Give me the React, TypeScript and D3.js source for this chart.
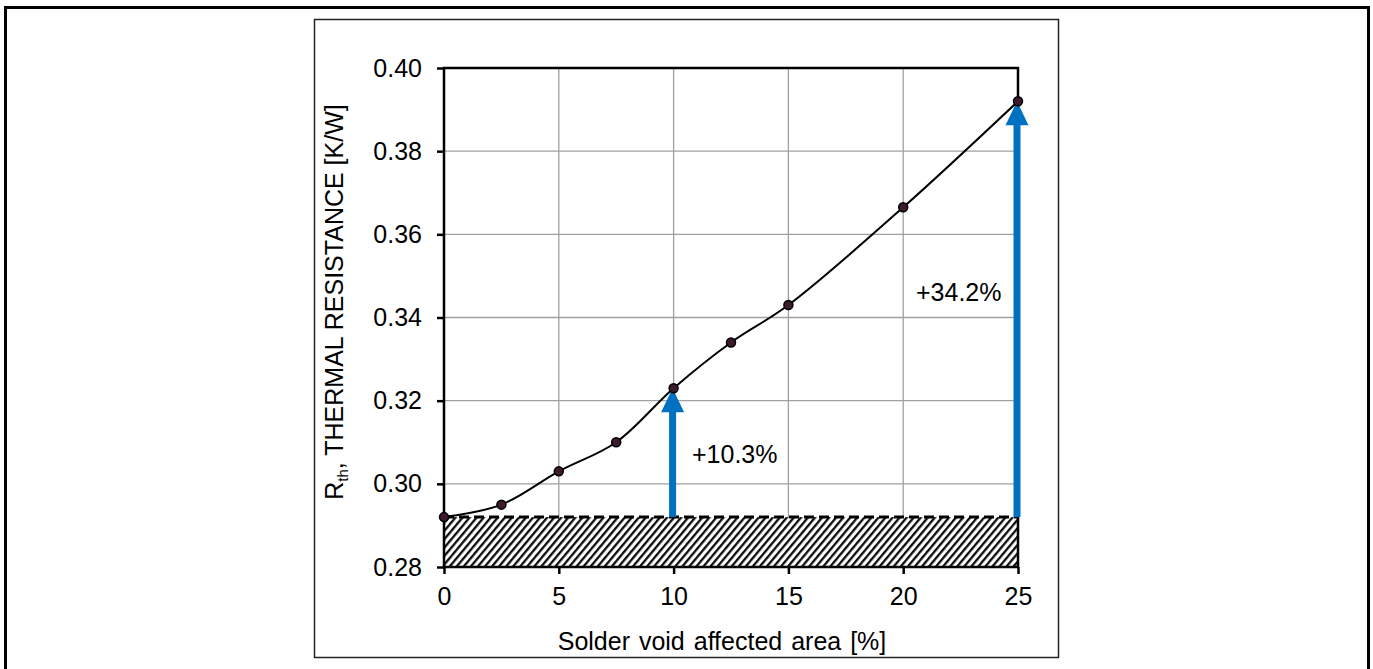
import React, { useRef, useEffect } from 'react';
import * as d3 from 'd3';

const voidArea = [0, 2.5, 5, 7.5, 10, 12.5, 15, 20, 25];
const rth = [0.292, 0.295, 0.303, 0.31, 0.323, 0.334, 0.343, 0.3665, 0.392];
const xTicks = [0, 5, 10, 15, 20, 25];
const yTicks = [0.28, 0.3, 0.32, 0.34, 0.36, 0.38, 0.4];
const baseline = 0.292;
const arrowAt = [10, 25];
const arrowLabels = ['+10.3%', '+34.2%'];

const FONT = '"Liberation Sans", Arial, sans-serif';
const BLUE = '#0070c0';

const App = () => {
    const svgRef = useRef<SVGSVGElement>(null);

    useEffect(() => {
        const svg = d3.select(svgRef.current);
        svg.selectAll('*').remove();

        const left = 444, right = 1018, top = 68, bottom = 567;

        const x = d3.scaleLinear().domain([0, 25]).range([left, right]);
        const y = d3.scaleLinear().domain([0.28, 0.4]).range([bottom, top]);

        // hatch pattern for the baseline band
        const defs = svg.append('defs');
        const pat = defs.append('pattern')
            .attr('id', 'hatch')
            .attr('patternUnits', 'userSpaceOnUse')
            .attr('width', 5.4)
            .attr('height', 10)
            .attr('patternTransform', 'rotate(40)');
        pat.append('rect').attr('width', 5.4).attr('height', 10).attr('fill', '#fff');
        pat.append('line')
            .attr('x1', 1.2).attr('y1', 0).attr('x2', 1.2).attr('y2', 10)
            .attr('stroke', '#000').attr('stroke-width', 2.2);

        // outer frames
        svg.append('rect')
            .attr('x', 5.5).attr('y', 7.5).attr('width', 1363).attr('height', 700)
            .attr('fill', 'none').attr('stroke', '#000').attr('stroke-width', 3);
        svg.append('rect')
            .attr('x', 314.5).attr('y', 19.5).attr('width', 744).attr('height', 638)
            .attr('fill', '#fff').attr('stroke', '#222').attr('stroke-width', 1.5);

        // gridlines
        const grid = svg.append('g').attr('stroke', '#a0a0a0').attr('stroke-width', 1.3);
        xTicks.slice(1, -1).forEach(t => {
            grid.append('line').attr('x1', x(t)).attr('x2', x(t)).attr('y1', top).attr('y2', bottom);
        });
        yTicks.slice(1, -1).forEach(t => {
            grid.append('line').attr('x1', left).attr('x2', right).attr('y1', y(t)).attr('y2', y(t));
        });

        // hatched band below baseline
        svg.append('rect')
            .attr('x', x(0)).attr('y', y(baseline))
            .attr('width', x(25) - x(0)).attr('height', y(0.28) - y(baseline))
            .attr('fill', 'url(#hatch)');
        svg.append('line')
            .attr('x1', x(0)).attr('x2', x(25)).attr('y1', y(baseline)).attr('y2', y(baseline))
            .attr('stroke', '#000').attr('stroke-width', 3).attr('stroke-dasharray', '10,5');

        // plot border
        svg.append('rect')
            .attr('x', left).attr('y', top).attr('width', right - left).attr('height', bottom - top)
            .attr('fill', 'none').attr('stroke', '#000').attr('stroke-width', 2.5);

        // axes
        const yAxis = svg.append('g')
            .attr('transform', `translate(${left},0)`)
            .call(d3.axisLeft(y).tickValues(yTicks).tickFormat(d3.format('.2f')).tickSize(7).tickPadding(15));
        const xAxis = svg.append('g')
            .attr('transform', `translate(0,${bottom})`)
            .call(d3.axisBottom(x).tickValues(xTicks).tickSize(7).tickPadding(13));
        [yAxis, xAxis].forEach(a => {
            a.select('.domain').remove();
            a.selectAll('line').attr('stroke', '#000').attr('stroke-width', 2.5);
            a.selectAll('text').attr('font-family', FONT).attr('font-size', 25).attr('fill', '#000');
        });

        // arrows
        arrowAt.forEach((a, i) => {
            const v = rth[voidArea.indexOf(a)];
            const cx = x(a) - 1;
            const tip = y(v);
            const headH = 24, headW = 23;
            svg.append('rect')
                .attr('x', cx - 3.5).attr('y', tip + headH - 1)
                .attr('width', 7).attr('height', y(baseline) - tip - headH + 1)
                .attr('fill', BLUE);
            svg.append('path')
                .attr('d', `M${cx},${tip} L${cx + headW / 2},${tip + headH} L${cx - headW / 2},${tip + headH} Z`)
                .attr('fill', BLUE);
            svg.append('text')
                .attr('x', i === 0 ? 692 : 916)
                .attr('y', i === 0 ? 463 : 301)
                .attr('font-family', FONT).attr('font-size', 25)
                .text(arrowLabels[i]);
        });

        // smoothed line + markers
        const pts = voidArea.map((d, i) => [d, rth[i]] as [number, number]);
        const line = d3.line<[number, number]>()
            .x(d => x(d[0]))
            .y(d => y(d[1]))
            .curve(d3.curveCatmullRom.alpha(0.5));
        svg.append('path')
            .attr('d', line(pts))
            .attr('fill', 'none').attr('stroke', '#000').attr('stroke-width', 2);
        svg.selectAll('.pt')
            .data(pts)
            .join('circle')
            .attr('class', 'pt')
            .attr('cx', d => x(d[0]))
            .attr('cy', d => y(d[1]))
            .attr('r', 4.5)
            .attr('fill', '#3d1a2e')
            .attr('stroke', '#000')
            .attr('stroke-width', 1.5);

        // axis titles
        const yTitle = svg.append('text')
            .attr('transform', 'translate(343,302) rotate(-90)')
            .attr('text-anchor', 'middle')
            .attr('font-family', FONT).attr('font-size', 25);
        yTitle.append('tspan').text('R');
        yTitle.append('tspan').attr('font-size', 15).attr('dy', 5).text('th');
        yTitle.append('tspan').attr('dy', -5).text(', THERMAL RESISTANCE [K/W]');

        svg.append('text')
            .attr('x', 722).attr('y', 650)
            .attr('text-anchor', 'middle')
            .attr('font-family', FONT).attr('font-size', 25)
            .attr('word-spacing', 2)
            .text('Solder void affected area [%]');
    }, []);

    return (
        <svg ref={svgRef} width="1373" height="669"
            style={{ position: 'absolute', left: 0, top: 0, background: '#fff' }}></svg>
    );
};

export default App;
